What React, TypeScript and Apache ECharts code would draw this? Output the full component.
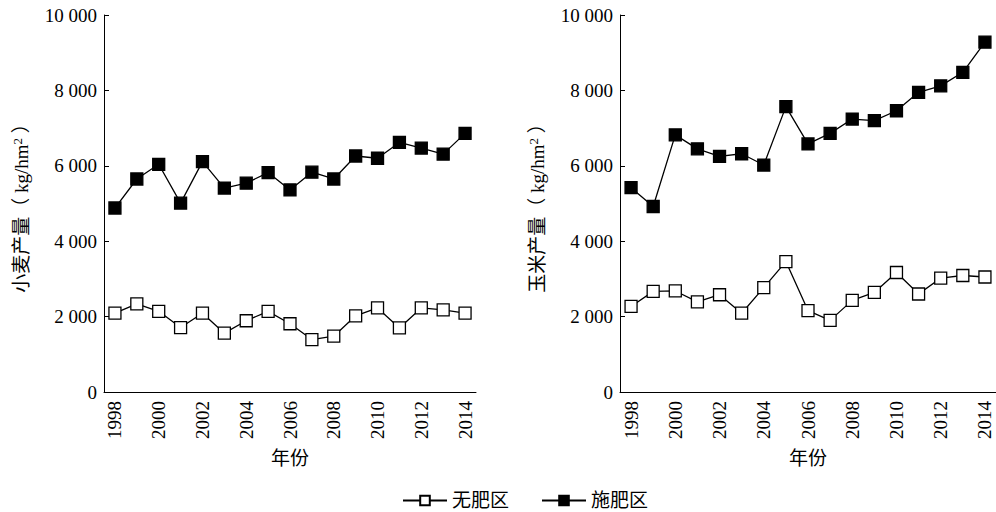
import React, { useEffect, useRef } from "react";
import * as echarts from "echarts";

const years = ["1998","1999","2000","2001","2002","2003","2004","2005","2006","2007","2008","2009","2010","2011","2012","2013","2014"];
const wheatNoFert = [2090, 2340, 2140, 1710, 2090, 1560, 1890, 2140, 1810, 1390, 1480, 2020, 2230, 1700, 2230, 2180, 2090];
const wheatFert = [4880, 5650, 6040, 5010, 6110, 5410, 5540, 5820, 5360, 5830, 5650, 6260, 6200, 6620, 6470, 6310, 6860];
const cornNoFert = [2270, 2670, 2680, 2390, 2580, 2090, 2770, 3460, 2160, 1900, 2430, 2640, 3170, 2600, 3020, 3090, 3050];
const cornFert = [5420, 4920, 6820, 6450, 6250, 6320, 6020, 7570, 6580, 6860, 7240, 7200, 7460, 7950, 8120, 8480, 9280];
const seriesNames = ["无肥区", "施肥区"];
const yNamePrefixes = ["小麦产量", "玉米产量"];
const yUnit = "kg/hm";
const xName = "年份";

const FONT = "'Liberation Serif', 'Times New Roman', 'Noto Sans CJK SC', serif";
const INK = "#000";

function fmt(v: number): string {
  if (v >= 1000) {
    return `${Math.floor(v / 1000)} ${String(v % 1000).padStart(3, "0")}`;
  }
  return String(v);
}

export default function App() {
  const ref = useRef<HTMLDivElement>(null);
  useEffect(() => {
    if (!ref.current) return;
    const chart = echarts.init(ref.current, undefined, { renderer: "svg" });
    const xAxisBase = (gridIndex: number) => ({
      type: "category" as const,
      gridIndex,
      data: years,
      boundaryGap: true,
      name: xName,
      nameLocation: "middle" as const,
      nameGap: 57,
      nameTextStyle: { fontFamily: FONT, fontSize: 19, color: INK },
      axisLine: { lineStyle: { color: INK, width: 1 } },
      axisTick: { inside: true, length: 5, interval: 0, lineStyle: { color: INK } },
      axisLabel: { interval: 1, rotate: 90, margin: 9, fontFamily: FONT, fontSize: 19, color: INK },
      splitLine: { show: false },
    });
    const yAxisBase = (gridIndex: number, prefix: string) => ({
      type: "value" as const,
      gridIndex,
      min: 0,
      max: 10000,
      interval: 2000,
      name: `{a|${prefix}（ ${yUnit}}{s|2}{a| ）}`,
      nameLocation: "middle" as const,
      nameGap: 72,
      nameTextStyle: {
        fontFamily: FONT,
        fontSize: 19,
        color: INK,
        rich: {
          a: { fontFamily: FONT, fontSize: 19, color: INK },
          s: { fontFamily: FONT, fontSize: 13, color: INK, verticalAlign: "top", padding: [0, 0, 8, 0] },
        },
      },
      axisLine: { show: true, lineStyle: { color: INK, width: 1 } },
      axisTick: { show: true, inside: true, length: 5, lineStyle: { color: INK } },
      axisLabel: { margin: 7, fontFamily: FONT, fontSize: 19, color: INK, formatter: (v: number) => fmt(v) },
      splitLine: { show: false },
    });
    const lineSeries = (name: string, data: number[], idx: number, filled: boolean) => ({
      type: "line" as const,
      name,
      data,
      xAxisIndex: idx,
      yAxisIndex: idx,
      symbol: "rect",
      symbolSize: 12,
      lineStyle: { color: INK, width: 1.3 },
      itemStyle: { color: filled ? INK : "#fff", borderColor: INK, borderWidth: 1.3 },
      emphasis: { disabled: true },
    });
    chart.setOption({
      animation: false,
      backgroundColor: "#fff",
      textStyle: { fontFamily: FONT },
      legend: {
        left: 397,
        top: 486,
        itemWidth: 44,
        itemHeight: 12,
        itemGap: 32,
        data: seriesNames,
        textStyle: { fontFamily: FONT, fontSize: 19, color: INK },
      },
      grid: [
        { left: 104, top: 15, width: 372, height: 377 },
        { left: 620, top: 15, width: 382, height: 377 },
      ],
      xAxis: [xAxisBase(0), xAxisBase(1)],
      yAxis: [yAxisBase(0, yNamePrefixes[0]), yAxisBase(1, yNamePrefixes[1])],
      series: [
        lineSeries(seriesNames[0], wheatNoFert, 0, false),
        lineSeries(seriesNames[1], wheatFert, 0, true),
        lineSeries(seriesNames[0], cornNoFert, 1, false),
        lineSeries(seriesNames[1], cornFert, 1, true),
      ],
    });
    return () => chart.dispose();
  }, []);
  return <div ref={ref} style={{ width: 996, height: 512, position: "absolute", left: 0, top: 0 }} />;
}
